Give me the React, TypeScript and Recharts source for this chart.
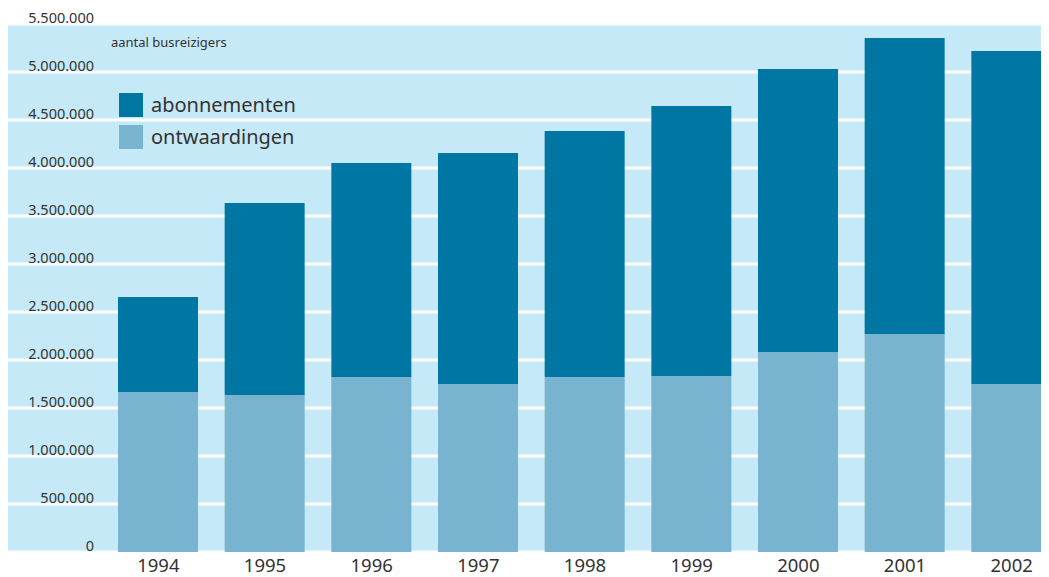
import { BarChart, Bar, XAxis, YAxis, CartesianGrid } from 'recharts'

const years = ['1994', '1995', '1996', '1997', '1998', '1999', '2000', '2001', '2002']
const ontwaardingen = [1667000, 1635000, 1823000, 1750000, 1823000, 1833000, 2083000, 2271000, 1750000]
const abonnementen = [989000, 2000000, 2229000, 2406000, 2562000, 2813000, 2948000, 3083000, 3469000]
const yTicks = [0, 500000, 1000000, 1500000, 2000000, 2500000, 3000000, 3500000, 4000000, 4500000, 5000000, 5500000]

const DARK = '#0077a3'
const LIGHT = '#78b3d0'
const BG = '#c6e9f8'
const TEXT = '#333333'
const FONT = '"Noto Sans", "Open Sans", sans-serif'

const series = [
  { key: 'abonnementen', label: 'abonnementen', color: DARK },
  { key: 'ontwaardingen', label: 'ontwaardingen', color: LIGHT },
]

const data = years.map((year, i) => ({
  year,
  ontwaardingen: ontwaardingen[i],
  abonnementen: abonnementen[i],
}))

// 5500000 -> 5.500.000
const fmt = (v: number) => v.toString().replace(/\B(?=(\d{3})+(?!\d))/g, '.')

function YTick({ y, payload }: any) {
  return (
    <text x={86} y={y - 6} dy="0.35em" textAnchor="end" fontSize={14.5} fill={TEXT} fontFamily={FONT}>
      {fmt(payload.value)}
    </text>
  )
}

function XTick({ x, y, payload }: any) {
  return (
    <text x={x} y={y + 6} dy="0.35em" textAnchor="middle" fontSize={18.5} fill={TEXT} fontFamily={FONT}>
      {payload.value}
    </text>
  )
}

function LegendBox() {
  return (
    <div style={{ position: 'absolute', left: 103, top: 26, width: 300, height: 130, fontFamily: FONT, color: TEXT }}>
      <div style={{ position: 'absolute', left: 0, top: 0, fontSize: 13, lineHeight: '16px', whiteSpace: 'nowrap' }}>
        aantal busreizigers
      </div>
      {series.map((s, i) => (
        <div
          key={s.key}
          style={{ position: 'absolute', left: 8, top: 59 + i * 32, display: 'flex', alignItems: 'center', whiteSpace: 'nowrap' }}
        >
          <div style={{ width: 24, height: 24, background: s.color }} />
          <span style={{ marginLeft: 8, fontSize: 20, lineHeight: '24px' }}>{s.label}</span>
        </div>
      ))}
    </div>
  )
}

export default function App() {
  return (
    <div style={{ position: 'relative', width: 1041, height: 569, overflow: 'hidden' }}>
      {/* light blue panel behind the whole plot incl. the y labels */}
      <div style={{ position: 'absolute', left: 0, top: 16, width: 1041, height: 528, background: BG }} />
      <div style={{ position: 'absolute', left: 0, top: 0 }}>
        <BarChart width={1057} height={569} data={data} margin={{ top: 16, right: 0, bottom: 0, left: 0 }}>
          <CartesianGrid vertical={false} stroke="#ffffff" strokeWidth={3} />
          <XAxis dataKey="year" axisLine={false} tickLine={false} height={25} tick={<XTick />} interval={0} />
          <YAxis
            width={97}
            domain={[0, 5500000]}
            ticks={yTicks}
            interval={0}
            axisLine={false}
            tickSize={97}
            tickLine={{ stroke: '#ffffff', strokeWidth: 3 }}
            tick={<YTick />}
          />
          <Bar dataKey="ontwaardingen" stackId="a" fill={LIGHT} barSize={80} isAnimationActive={false} />
          <Bar dataKey="abonnementen" stackId="a" fill={DARK} barSize={80} isAnimationActive={false} />
        </BarChart>
      </div>
      <LegendBox />
    </div>
  )
}
